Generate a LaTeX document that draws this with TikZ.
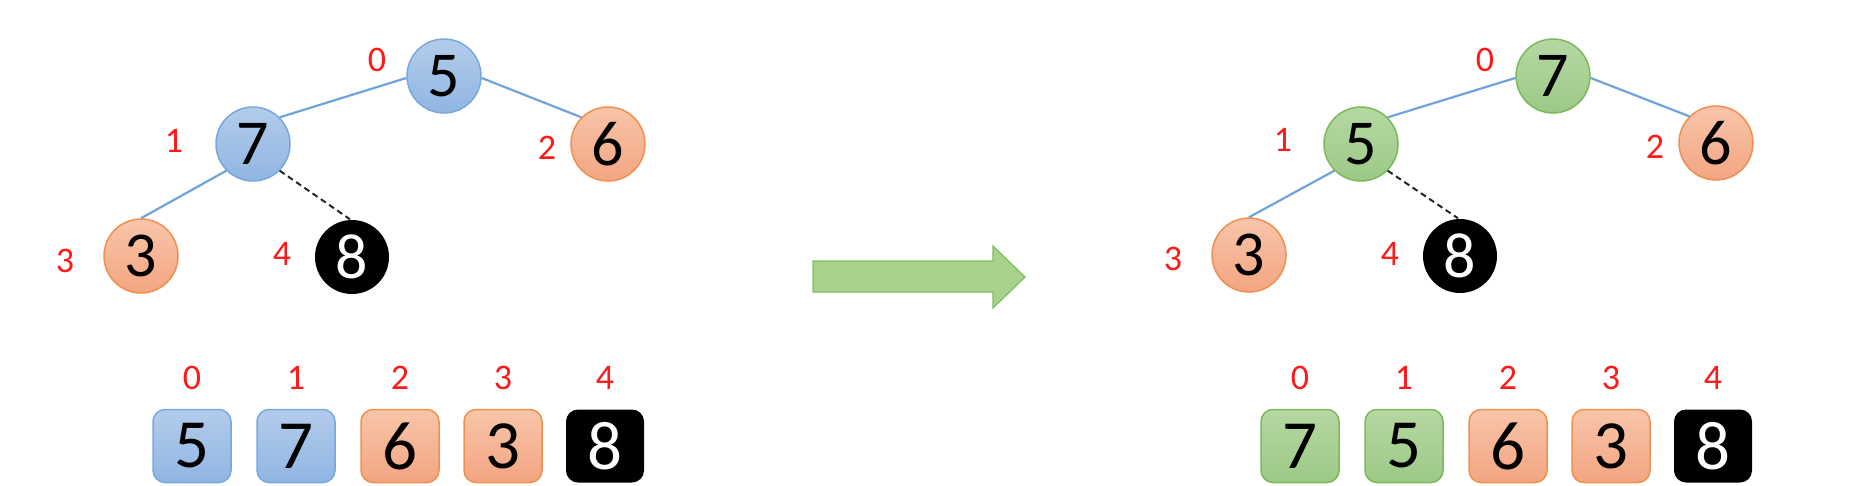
\documentclass[tikz,border=0pt]{standalone}
\usepackage{fontspec}
\setmainfont{Carlito}
\definecolor{bluetop}{HTML}{B3CCEB}
\definecolor{bluebot}{HTML}{90B5E2}
\definecolor{blueline}{HTML}{78A8DD}
\definecolor{edgeblue}{HTML}{6FA3DC}
\definecolor{orgtop}{HTML}{F8C5A9}
\definecolor{orgbot}{HTML}{F3A582}
\definecolor{orgline}{HTML}{F0904F}
\definecolor{grntop}{HTML}{B6D8A3}
\definecolor{grnbot}{HTML}{9CC986}
\definecolor{grnline}{HTML}{7DB95A}
\definecolor{arrfill}{HTML}{A9D18E}
\definecolor{arrline}{HTML}{7FBF5F}
\definecolor{idxred}{HTML}{FF1A1A}
\tikzset{
  treenode/.style={circle, minimum size=74pt, inner sep=0pt, line width=1.5pt, font=\fontsize{64}{64}\selectfont},
  arrbox/.style={rectangle, rounded corners=12pt, minimum width=78pt, minimum height=73pt, inner sep=0pt, line width=1.5pt, font=\fontsize{69}{69}\selectfont},
  bluefill/.style={draw=blueline, top color=bluetop, bottom color=bluebot},
  orgfill/.style={draw=orgline, top color=orgtop, bottom color=orgbot},
  grnfill/.style={draw=grnline, top color=grntop, bottom color=grnbot},
  blkfill/.style={fill=black, text=white},
  idx/.style={text=idxred, inner sep=0pt, font=\fontsize{36}{36}\selectfont},
  treeedge/.style={draw=edgeblue, line width=2.2pt},
  dashedge/.style={draw=black!85, line width=2pt, dashed, dash pattern=on 6pt off 4pt},
}
\begin{document}
\begin{tikzpicture}[x=1pt, y=-1pt]
\useasboundingbox (0,0) rectangle (1870,485);
% ---------------- left tree ----------------
\node[treenode, bluefill] (a0) at (444,76) {5};
\node[treenode, bluefill] (a1) at (253,144) {7};
\node[treenode, orgfill] (a2) at (608,144) {6};
\node[treenode, orgfill] (a3) at (141,256) {3};
\node[treenode, blkfill] (a4) at (352,257) {8};
\draw[treeedge] (a0.183) -- (a1.45);
\draw[treeedge] (a0.357) -- (a2.135);
\draw[treeedge] (a1.225) -- (a3.90);
\draw[dashedge] (a1.315) -- (a4.93);
\node[idx] (la0) at (377,60) {0};
\node[idx] (la1) at (174,141) {1};
\node[idx] (la2) at (547,148) {2};
\node[idx] (la3) at (65,261) {3};
\node[idx] (la4) at (282,254) {4};
% ---------------- left array ----------------
\node[arrbox, bluefill] (b0) at (192,446) {5};
\node[arrbox, bluefill] (b1) at (296,446) {7};
\node[arrbox, orgfill] (b2) at (400,446) {6};
\node[arrbox, orgfill] (b3) at (503,446) {3};
\node[arrbox, blkfill] (b4) at (605,446) {8};
\node[idx] (lb0) at (192,378) {0};
\node[idx] (lb1) at (296,378) {1};
\node[idx] (lb2) at (400,378) {2};
\node[idx] (lb3) at (503,378) {3};
\node[idx] (lb4) at (605,378) {4};
% ---------------- arrow ----------------
\filldraw[fill=arrfill, draw=arrline, line width=1.2pt, line join=miter]
  (813,261) -- (993,261) -- (993,246) -- (1025,277) -- (993,308) -- (993,292) -- (813,292) -- cycle;
% ---------------- right tree ----------------
\node[treenode, grnfill] (c0) at (1553,76) {7};
\node[treenode, grnfill] (c1) at (1361,144) {5};
\node[treenode, orgfill] (c2) at (1716,143) {6};
\node[treenode, orgfill] (c3) at (1249,255) {3};
\node[treenode, blkfill] (c4) at (1460,256) {8};
\draw[treeedge] (c0.183) -- (c1.45);
\draw[treeedge] (c0.357) -- (c2.135);
\draw[treeedge] (c1.225) -- (c3.90);
\draw[dashedge] (c1.315) -- (c4.93);
\node[idx] (lc0) at (1485,60) {0};
\node[idx] (lc1) at (1283,140) {1};
\node[idx] (lc2) at (1655,147) {2};
\node[idx] (lc3) at (1173,259) {3};
\node[idx] (lc4) at (1390,254) {4};
% ---------------- right array ----------------
\node[arrbox, grnfill] (d0) at (1300,446) {7};
\node[arrbox, grnfill] (d1) at (1404,446) {5};
\node[arrbox, orgfill] (d2) at (1508,446) {6};
\node[arrbox, orgfill] (d3) at (1611,446) {3};
\node[arrbox, blkfill] (d4) at (1713,446) {8};
\node[idx] (ld0) at (1300,378) {0};
\node[idx] (ld1) at (1404,378) {1};
\node[idx] (ld2) at (1508,378) {2};
\node[idx] (ld3) at (1611,378) {3};
\node[idx] (ld4) at (1713,378) {4};
\end{tikzpicture}
\end{document}
